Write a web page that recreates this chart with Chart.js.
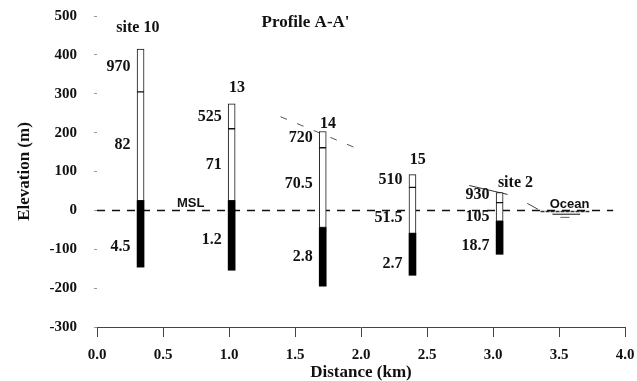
<!DOCTYPE html>
<html>
<head>
<meta charset="utf-8">
<script src="https://cdn.jsdelivr.net/npm/chart.js@4.4.1/dist/chart.umd.min.js"></script>
<style>
  html, body { margin: 0; padding: 0; background: #fff; }
  #wrap { width: 637px; height: 381px; }
</style>
</head>
<body>
<div id="wrap"><canvas id="profileChart" width="637" height="381"></canvas></div>
<script>
// Profile A-A' : borehole columns along the profile
const siteNames = ['site 10', '13', '14', '15', 'site 2'];
const siteKm = [0.33, 1.02, 1.71, 2.39, 3.05];
const topElev = [415, 274, 203, 92, 46];          // ground surface at the site
const upperBaseElev = [305, 210, 161, 59, 20];    // base of first layer
const fillTopElev = [25, 25, -44, -59, -28];      // top of the black layer
const bottomElev = [-146, -154, -195, -167, -113];

// resistivity values written beside each layer
const upperValues = ['970', '525', '720', '510', '930'];
const middleValues = ['82', '71', '70.5', '51.5', '105'];
const lowerValues = ['4.5', '1.2', '2.8', '2.7', '18.7'];

// where the written values sit (elevation, m)
const upperLabelElev = [369, 241, 187, 79, 41];
const middleLabelElev = [169, 118, 69, -18, -16];
const lowerLabelElev = [-95, -77, -120, -138, -90];
const siteLabelKm = [0.31, 1.06, 1.75, 2.43, 3.17];
const siteLabelElev = [469, 315, 223, 131, 72];

// sea level and surface sketch lines
const mslKm = [0, 3.91];
const mslElev = [0, 0];
const slopeKm14 = [1.39, 1.95];
const slopeElev14 = [241, 162];
const slopeKm2 = [2.82, 3.11];
const slopeElev2 = [64, 41];
const oceanKm = [3.36, 3.73];
const oceanElev = [-3, -3];
const oceanKm2 = [3.45, 3.66];
const oceanElev2 = [-10, -10];
const oceanKm3 = [3.51, 3.58];
const oceanElev3 = [-18, -18];
const waveKm = [3.26, 3.34];
const waveElev = [18, 3];

// x ticks / y ticks
const xTicks = [0, 0.5, 1.0, 1.5, 2.0, 2.5, 3.0, 3.5, 4.0];
const yTicks = [-300, -200, -100, 0, 100, 200, 300, 400, 500];

const serif = '"Liberation Serif", "DejaVu Serif", serif';
const sans = '"Liberation Sans", Arial, sans-serif';

function pts(xs, ys) {
  return xs.map((v, i) => ({ x: v, y: ys[i] }));
}
function column(lo, hi) {
  return siteKm.map((km, i) => ({ x: km, y: [lo[i], hi[i]] }));
}
function sketchLine(data, opts) {
  return Object.assign({
    type: 'line', data, borderColor: '#111', borderWidth: 1,
    pointRadius: 0, fill: false, order: 2
  }, opts || {});
}

// text on the profile
const labelPlugin = {
  id: 'profileLabels',
  afterDatasetsDraw(chart) {
    const { ctx, scales: { x, y } } = chart;
    ctx.save();
    ctx.fillStyle = '#111';
    ctx.textBaseline = 'middle';

    ctx.font = 'bold 16px ' + serif;
    ctx.textAlign = 'center';
    siteNames.forEach((name, i) => {
      ctx.fillText(name, x.getPixelForValue(siteLabelKm[i]), y.getPixelForValue(siteLabelElev[i]));
    });

    ctx.textAlign = 'right';
    siteKm.forEach((km, i) => {
      const px = x.getPixelForValue(km) - 10;
      ctx.fillText(upperValues[i], px, y.getPixelForValue(upperLabelElev[i]));
      ctx.fillText(middleValues[i], px, y.getPixelForValue(middleLabelElev[i]));
      ctx.fillText(lowerValues[i], px, y.getPixelForValue(lowerLabelElev[i]));
    });

    ctx.textAlign = 'center';
    ctx.font = 'bold 17px ' + serif;
    ctx.fillText("Profile A-A'", x.getPixelForValue(1.58), y.getPixelForValue(482));

    ctx.font = 'bold 13px ' + sans;
    ctx.fillText('MSL', x.getPixelForValue(0.71), y.getPixelForValue(18));
    ctx.fillText('Ocean', x.getPixelForValue(3.58), y.getPixelForValue(15));
    ctx.restore();
  }
};

const ctx = document.getElementById('profileChart').getContext('2d');
new Chart(ctx, {
  type: 'bar',
  data: {
    datasets: [
      { data: column(upperBaseElev, topElev), backgroundColor: '#fff', borderColor: '#111',
        borderWidth: 1, borderSkipped: false, barThickness: 7, grouped: false, order: 0 },
      { data: column(fillTopElev, upperBaseElev), backgroundColor: '#fff', borderColor: '#111',
        borderWidth: 1, borderSkipped: false, barThickness: 7, grouped: false, order: 0 },
      { data: column(bottomElev, fillTopElev), backgroundColor: '#000', borderWidth: 0,
        barThickness: 7, grouped: false, order: 0 },
      sketchLine(pts(mslKm, mslElev), { borderWidth: 1.5, borderDash: [8, 7] }),
      sketchLine(pts(slopeKm14, slopeElev14), { borderColor: '#555', borderDash: [7, 11] }),
      sketchLine(pts(slopeKm2, slopeElev2), { borderColor: '#333' }),
      sketchLine(pts(oceanKm, oceanElev), { borderWidth: 1.5, borderColor: '#333', borderDash: [4, 1] }),
      sketchLine(pts(oceanKm2, oceanElev2), { borderWidth: 1.3, borderColor: '#444' }),
      sketchLine(pts(oceanKm3, oceanElev3), { borderColor: '#666' }),
      sketchLine(pts(waveKm, waveElev), { borderColor: '#444' })
    ]
  },
  options: {
    responsive: false,
    animation: false,
    events: [],
    layout: { padding: { top: 16, right: 12, bottom: 0, left: 0 } },
    plugins: { legend: { display: false }, tooltip: { enabled: false }, title: { display: false } },
    scales: {
      x: {
        type: 'linear', min: 0, max: 4, offset: false,
        afterBuildTicks: s => { s.ticks = xTicks.map(v => ({ value: v })); },
        afterFit: s => { s.height = 54; s.paddingLeft = 0; s.paddingRight = 0; },
        border: { display: true, color: '#444', width: 1 },
        grid: { drawOnChartArea: false, offset: false, tickLength: 10, color: '#444' },
        ticks: {
          padding: 9, color: '#111', maxRotation: 0,
          font: { family: serif, size: 15, weight: 'bold' },
          callback: v => Number(v).toFixed(1)
        },
        title: {
          display: true, text: 'Distance (km)', color: '#111',
          font: { family: serif, size: 17, weight: 'bold', lineHeight: 1 },
          padding: { top: 0, bottom: 0 }
        }
      },
      y: {
        min: -300, max: 500,
        afterBuildTicks: s => { s.ticks = yTicks.map(v => ({ value: v })); },
        afterFit: s => { s.width = 97; s.paddingTop = 0; s.paddingBottom = 0; },
        border: { display: false },
        grid: { drawOnChartArea: false, tickLength: 3, color: '#999' },
        ticks: {
          padding: 17, color: '#111',
          font: { family: serif, size: 15, weight: 'bold' }
        },
        title: {
          display: true, text: 'Elevation (m)', color: '#111',
          font: { family: serif, size: 17, weight: 'bold', lineHeight: 1 },
          padding: { top: 16, bottom: 0 }
        }
      }
    }
  },
  plugins: [labelPlugin]
});
</script>
</body>
</html>
